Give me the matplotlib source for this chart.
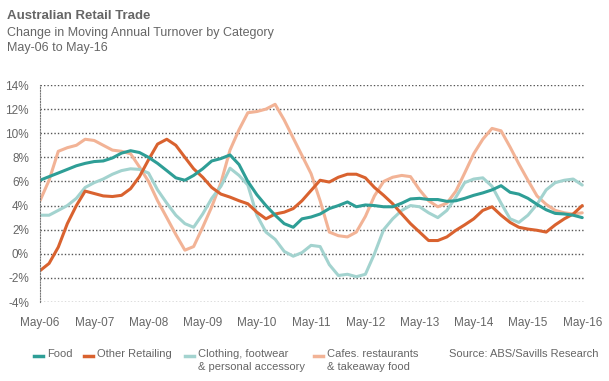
import numpy as np
import pandas as pd
import matplotlib.pyplot as plt
import matplotlib.dates as mdates
from matplotlib.lines import Line2D

plt.rcParams['font.family'] = ['Liberation Sans', 'DejaVu Sans']

# bi-monthly readings, May-06 .. May-16 (% change in moving annual turnover)
dates = pd.date_range('2006-05-01', '2016-05-01', freq='2MS')

food = [6.1, 6.4, 6.7, 7.0, 7.3, 7.5, 7.65, 7.7, 7.95, 8.35, 8.55, 8.4, 8.0,
        7.5, 6.9, 6.3, 6.1, 6.5, 7.05, 7.7, 7.9, 8.2, 7.4, 6.0, 4.9,
        4.0, 3.2, 2.5, 2.2, 2.9, 3.05, 3.3, 3.75, 4.0, 4.3, 3.9, 4.05,
        4.0, 3.9, 3.9, 4.2, 4.55, 4.6, 4.5, 4.5, 4.35, 4.4, 4.6, 4.85,
        5.05, 5.3, 5.65, 5.1, 4.95, 4.6, 4.1, 3.65, 3.35, 3.3, 3.2, 3.0]

other = [-1.4, -0.8, 0.55, 2.5, 4.0, 5.2, 5.0, 4.8, 4.75, 4.85, 5.4, 6.4, 7.8,
         9.1, 9.5, 9.0, 8.0, 7.05, 6.35, 5.5, 4.95, 4.7, 4.4, 4.15, 3.45,
         2.9, 3.3, 3.45, 3.75, 4.4, 5.25, 6.1, 5.95, 6.35, 6.6, 6.6, 6.3,
         5.5, 4.85, 4.15, 3.3, 2.5, 1.8, 1.1, 1.1, 1.4, 1.95, 2.4, 2.9,
         3.6, 3.9, 3.2, 2.6, 2.2, 2.05, 1.95, 1.8, 2.4, 2.9, 3.3, 4.0]

clothing = [3.2, 3.2, 3.6, 4.0, 4.6, 5.5, 5.9, 6.2, 6.6, 6.9, 7.05, 7.0, 6.7,
            5.3, 4.2, 3.2, 2.5, 2.2, 3.3, 4.6, 5.6, 7.1, 6.5, 5.7, 3.2,
            1.8, 1.2, 0.2, -0.2, 0.1, 0.7, 0.6, -0.9, -1.8, -1.7, -1.9, -1.7,
            0.0, 2.0, 2.9, 3.6, 4.0, 3.9, 3.4, 3.0, 3.6, 4.7, 5.9, 6.2,
            6.3, 5.6, 4.2, 2.9, 2.6, 3.2, 4.1, 5.3, 5.9, 6.1, 6.2, 5.7]

cafes = [4.4, 6.1, 8.5, 8.8, 9.0, 9.5, 9.4, 9.0, 8.6, 8.5, 8.3, 7.2, 6.0,
         4.4, 3.0, 1.6, 0.3, 0.6, 2.2, 3.9, 5.9, 8.6, 10.3, 11.7, 11.8,
         12.0, 12.4, 11.1, 9.6, 8.15, 6.65, 4.4, 1.8, 1.5, 1.4, 1.8, 3.1,
         4.8, 6.0, 6.35, 6.5, 6.4, 5.3, 4.4, 3.9, 4.2, 5.2, 6.7, 8.3,
         9.5, 10.4, 10.2, 8.85, 7.45, 6.1, 4.8, 4.1, 3.6, 3.4, 3.3, 3.4]

series = [
    ('Cafes. restaurants\n& takeaway food', cafes, '#f2b396'),
    ('Clothing, footwear\n& personal accessory', clothing, '#a3d3cf'),
    ('Other Retailing', other, '#d9622f'),
    ('Food', food, '#2e9e96'),
]

fig = plt.figure(figsize=(6.09, 3.81), dpi=100)
ax = fig.add_axes([0.0657, 0.2073, 0.895, 0.5696])

for name, vals, col in series:
    ax.plot(dates, vals, color=col, lw=2.2, solid_capstyle='round',
            solid_joinstyle='round')

ax.set_ylim(-4, 14)
ax.set_yticks(range(-4, 15, 2))
ax.set_yticklabels([f'{v}%' for v in range(-4, 15, 2)])
ax.set_xlim(pd.Timestamp('2006-05-01'), pd.Timestamp('2016-05-20'))
ax.xaxis.set_major_locator(mdates.YearLocator(base=1, month=5, day=1))
ax.xaxis.set_major_formatter(mdates.DateFormatter('%b-%y'))

ax.grid(axis='y', linestyle=(0, (1, 1.5)), color='#555555', lw=1.0)
ax.set_axisbelow(True)
for s in ['top', 'right', 'bottom']:
    ax.spines[s].set_visible(False)
ax.spines['left'].set_linestyle((0, (1, 1.5)))
ax.spines['left'].set_color('#777777')
ax.tick_params(axis='y', length=0, pad=8, labelsize=8.5, labelcolor='#666666')
ax.tick_params(axis='x', length=0, pad=11, labelsize=8.5, labelcolor='#666666')

# titles
fig.text(0.012, 0.957, 'Australian Retail Trade', fontsize=9.5, fontweight='bold',
         color='#666666', va='center')
fig.text(0.012, 0.913, 'Change in Moving Annual Turnover by Category', fontsize=9,
         color='#666666', va='center')
fig.text(0.012, 0.875, 'May-06 to May-16', fontsize=9, color='#666666', va='center')

# legend row
leg = [('Food', '#2e9e96', 34), ('Other Retailing', '#d9622f', 84),
       ('Clothing, footwear\n& personal accessory', '#a3d3cf', 185),
       ('Cafes. restaurants\n& takeaway food', '#f2b396', 314)]
y1 = 1 - 356 / 381
for label, col, px in leg:
    fig.add_artist(Line2D([px / 609, (px + 9) / 609], [y1, y1], color=col, lw=2.5,
                          transform=fig.transFigure))
    fig.text((px + 13) / 609, y1 + 0.018, label, fontsize=8, color='#666666',
             va='top', linespacing=1.3)
fig.text(449 / 609, y1 + 0.018, 'Source: ABS/Savills Research', fontsize=8,
         color='#666666', va='top')

fig.savefig('out.png', dpi=100)
